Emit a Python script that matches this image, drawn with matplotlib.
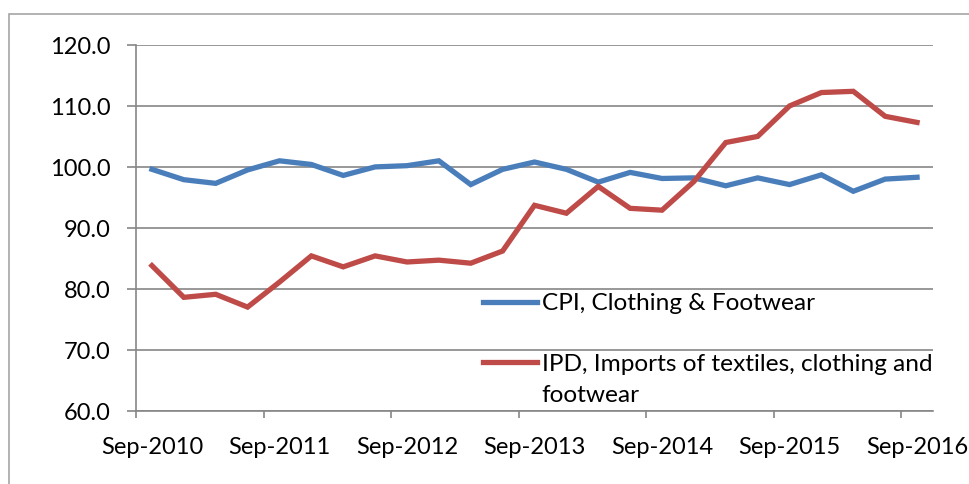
import matplotlib.pyplot as plt
from matplotlib.lines import Line2D
from matplotlib.patches import Rectangle

plt.rcParams['font.family'] = ['Lato', 'DejaVu Sans']

# quarterly, Sep-2010 .. Sep-2016
months = ["Sep", "Dec", "Mar", "Jun"]
quarters = []
for i in range(25):
    yr = 2010 + (i + 3) // 4
    quarters.append(f"{months[i % 4]}-{yr}")

cpi = [99.6, 97.9, 97.3, 99.5, 101.0, 100.4, 98.6, 100.0, 100.2, 101.0,
       97.1, 99.6, 100.8, 99.6, 97.5, 99.1, 98.1, 98.2, 96.9, 98.2,
       97.1, 98.7, 96.0, 98.0, 98.3]
ipd = [83.8, 78.6, 79.1, 77.0, 81.1, 85.4, 83.6, 85.4, 84.4, 84.7,
       84.2, 86.2, 93.7, 92.4, 96.8, 93.2, 92.9, 97.6, 104.0, 105.0,
       110.0, 112.2, 112.4, 108.3, 107.3]

cpi_label = "CPI, Clothing & Footwear"
ipd_label = "IPD, Imports of textiles, clothing and\nfootwear"

blue = "#4A7EBB"
red = "#BE4B48"
grid = "#868686"
fs = 17
lfs = 17.6

fig = plt.figure(figsize=(9.69, 4.85), dpi=100)
ax = fig.add_axes([136 / 969, 1 - 411.7 / 485, 797 / 969, 365.7 / 485])

# outer chart border
fig.patches.append(Rectangle((9 / 969, -0.1), 1.2, 1 - 15 / 485 + 0.1,
                             transform=fig.transFigure, fill=False,
                             edgecolor="#A6A6A6", lw=1.2))

x = list(range(len(quarters)))
ax.plot(x, cpi, color=blue, lw=3.8, solid_joinstyle="miter")
ax.plot(x, ipd, color=red, lw=3.8, solid_joinstyle="miter")

ax.set_xlim(-0.5, len(quarters) - 0.5)
ax.set_ylim(60, 120)
ax.set_yticks(range(60, 121, 10))
ax.set_yticklabels([f"{v:.1f}" for v in range(60, 121, 10)])
ax.set_xticks(x[::4])
ax.set_xticklabels(["Sep-" + q.split("-")[1] for q in quarters[::4]])
ax.set_xticks([v - 0.5 for v in x[::4]], minor=True)

ax.yaxis.grid(True, color=grid, lw=1.2)
ax.set_axisbelow(True)
for s in ["top", "right"]:
    ax.spines[s].set_visible(False)
for s in ["left", "bottom"]:
    ax.spines[s].set_color(grid)
    ax.spines[s].set_linewidth(1.2)

ax.tick_params(axis="y", length=6.5, width=1.2, color=grid, pad=12, labelsize=fs)
ax.tick_params(axis="x", which="major", length=0, pad=18, labelsize=fs)
ax.tick_params(axis="x", which="minor", length=5, width=1.2, color=grid)

# legend, drawn inside the plot area like Excel
hx0, hx1, tx = 0.435, 0.503, 0.509
ax.add_line(Line2D([hx0, hx1], [0.297, 0.297], transform=ax.transAxes,
                   color=blue, lw=3.8))
ax.text(tx, 0.297, cpi_label, transform=ax.transAxes, va="center",
        ha="left", fontsize=lfs)
ax.add_line(Line2D([hx0, hx1], [0.133, 0.133], transform=ax.transAxes,
                   color=red, lw=3.8))
ax.text(tx, 0.133 + 0.026, ipd_label, transform=ax.transAxes, va="top",
        ha="left", fontsize=lfs, linespacing=1.62)

fig.savefig("out.png", dpi=100)
